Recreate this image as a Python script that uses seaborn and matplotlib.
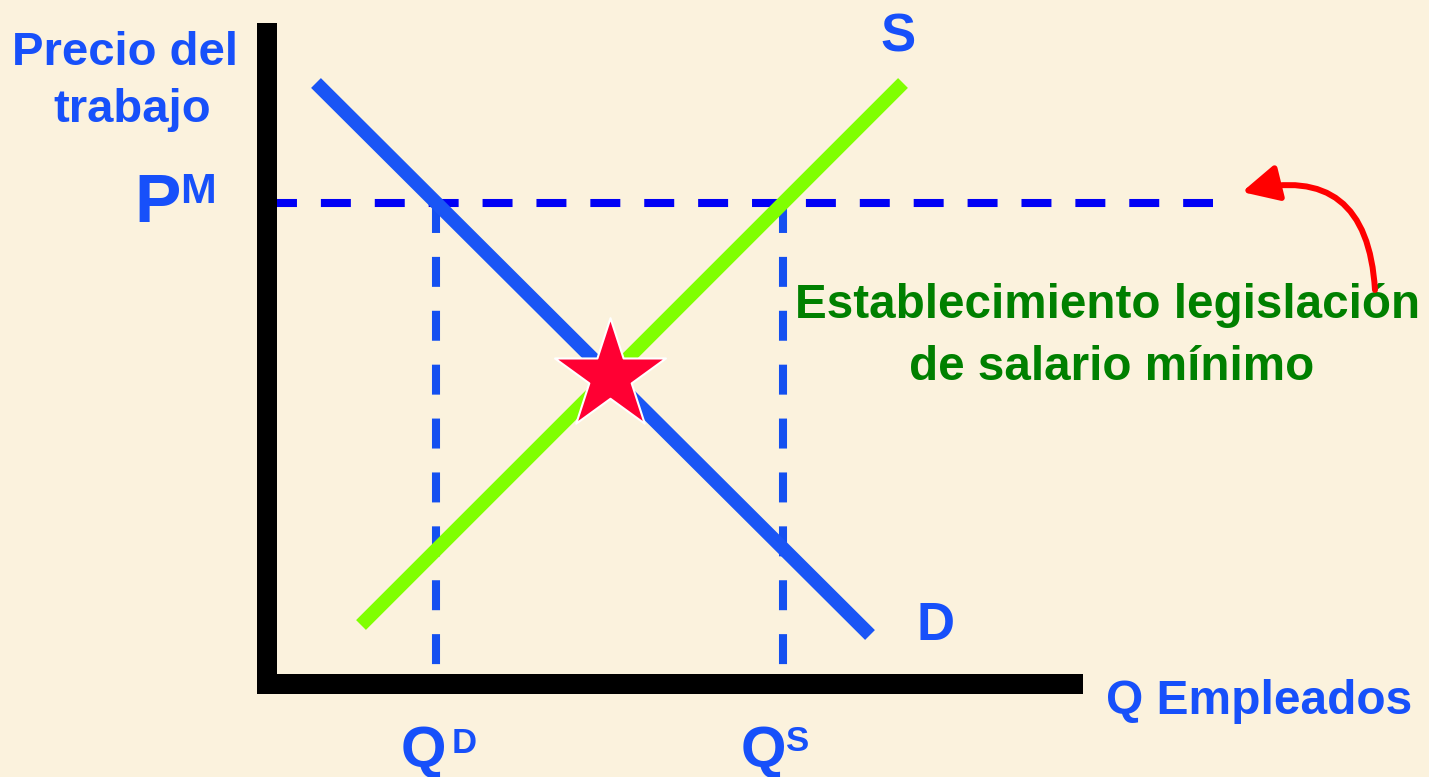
import numpy as np
import matplotlib
matplotlib.use("Agg")
import matplotlib.pyplot as plt
import seaborn as sns

sns.set_theme(style="white")
plt.rcParams['font.family'] = ['Liberation Sans', 'DejaVu Sans']

# curvas de oferta y demanda (Q empleados, precio del trabajo)
demand_q = [0.98, 12.06]
demand_p = [12.02, 0.98]
supply_q = [1.88, 12.72]
supply_p = [1.18, 12.02]
price_min = 9.62          # salario mínimo P^M
min_line_end = 18.92      # hasta donde llega la línea punteada
dash_bottom = 0.38

BLUE_TXT = '#1750FA'
GREEN_TXT = '#008000'
BG = '#FBF2DD'
DASH = (0, (3.72, 2.97))

# cantidades demandada y ofrecida al salario mínimo
q_dem = np.interp(price_min, demand_p[::-1], demand_q[::-1])
q_sup = np.interp(price_min, supply_p, supply_q)

# equilibrio = cruce de las dos rectas
m_d, b_d = np.polyfit(demand_q, demand_p, 1)
m_s, b_s = np.polyfit(supply_q, supply_p, 1)
q_eq = (b_s - b_d) / (m_d - m_s)
p_eq = m_d * q_eq + b_d
eq_df = {'q': [q_eq], 'p': [p_eq]}

fig = plt.figure(figsize=(14.29, 7.77), dpi=100, facecolor=BG)
W, H = 1429, 777
# origen de los ejes en (267, 684) px, 50 px por unidad
ax = fig.add_axes([267 / W, 93 / H, 806 / W, 651 / H])
ax.set_facecolor('none')
ax.set_xlim(0, 806 / 50)
ax.set_ylim(0, 651 / 50)

# líneas punteadas del salario mínimo
ax.plot([0, min_line_end], [price_min, price_min], color='#0000F5', lw=5.8,
        linestyle=DASH, dash_capstyle='butt', clip_on=False, zorder=2)
for q in [q_dem, q_sup]:
    ax.plot([q, q], [price_min, dash_bottom], color='#1450F0', lw=5.8,
            linestyle=DASH, dash_capstyle='butt', clip_on=False, zorder=2)

# demanda y oferta
sns.lineplot(x=demand_q, y=demand_p, ax=ax, color='#1A55F5', lw=10,
             solid_capstyle='butt', zorder=3)
sns.lineplot(x=supply_q, y=supply_p, ax=ax, color='#80FF00', lw=10,
             solid_capstyle='butt', zorder=3)

# estrella de equilibrio
sns.scatterplot(data=eq_df, x='q', y='p', ax=ax, marker='*', s=84 ** 2,
                color='#FF0033', edgecolor='white', linewidth=1.5, zorder=5)

# ejes negros
for side in ['top', 'right']:
    ax.spines[side].set_visible(False)
for side in ['left', 'bottom']:
    ax.spines[side].set_color('black')
    ax.spines[side].set_linewidth(14.4)
    ax.spines[side].set_capstyle('projecting')
ax.set_xticks([])
ax.set_yticks([])
ax.set_xlabel('')
ax.set_ylabel('')

def px(x, y):
    return (x - 267) / 50, (684 - y) / 50

def label(x, y, s, size, color=BLUE_TXT, ha='left'):
    ax.text(*px(x, y), s, fontsize=size, fontweight='bold', color=color,
            ha=ha, va='baseline', clip_on=False)

label(125, 65, 'Precio del', 34, ha='center')
label(132, 122, 'trabajo', 34, ha='center')
label(134, 222, 'P', 50)
label(180, 203, 'M', 31)
label(898, 52, 'S', 38, ha='center')
label(936, 640, 'D', 38, ha='center')
label(1106, 714, 'Q Empleados', 34.5)
label(401, 767, 'Q', 42)
label(452, 753, 'D', 25)
label(741, 767, 'Q', 42)
label(786, 751, 'S', 25)
label(1108, 318, 'Establecimiento legislación', 34.3, color=GREEN_TXT, ha='center')
label(1112, 380, 'de salario mínimo', 34.3, color=GREEN_TXT, ha='center')

# flecha roja curva
ax.annotate('', xy=px(1242, 192), xytext=px(1375, 290),
            arrowprops=dict(arrowstyle='-|>,head_length=1.1,head_width=0.55',
                            mutation_scale=20, color='#FF0000', lw=4.3,
                            connectionstyle='arc3,rad=0.6',
                            shrinkA=0, shrinkB=0),
            annotation_clip=False)

fig.savefig('out.png', dpi=100, facecolor=BG)
